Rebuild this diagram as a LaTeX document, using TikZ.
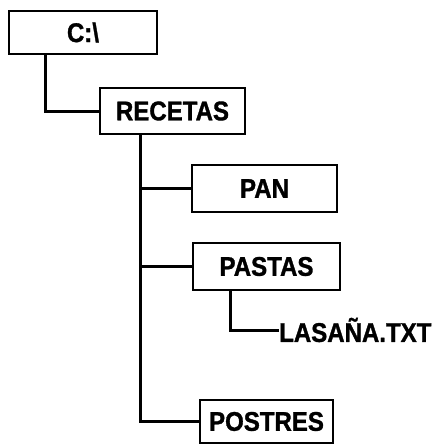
\documentclass[tikz,border=0pt]{standalone}
\usepackage{fontspec}
\newfontfamily\treefont{Liberation Sans}[UprightFont=* Bold,FakeBold=1.2,FakeStretch=0.89]
\usetikzlibrary{calc}
\begin{document}
\begin{tikzpicture}[x=1pt,y=1pt,
  dirbox/.style={draw,line width=2.8pt,inner sep=0pt,
    font=\fontsize{27}{27}\selectfont\treefont},
  leaf/.style={inner sep=0pt,font=\fontsize{27}{27}\selectfont\treefont},
  link/.style={line width=3pt}]
\useasboundingbox[fill=white] (0,0) rectangle (440,-445);
% directory boxes
\node[dirbox,minimum width=148pt,minimum height=43pt] (c) at (83,-32.5) {C:\textbackslash};
\node[dirbox,minimum width=145pt,minimum height=46pt] (recetas) at (172.5,-111) {RECETAS};
\node[dirbox,minimum width=145pt,minimum height=47pt] (pan) at (264.5,-188.5) {PAN};
\node[dirbox,minimum width=147pt,minimum height=47pt] (pastas) at (266.5,-266.5) {PASTAS};
\node[dirbox,minimum width=133pt,minimum height=43pt] (postres) at (266.5,-421.5) {POSTRES};
% file
\node[leaf,anchor=west] (lasana) at (279,-330) {LASAÑA.TXT};
% tree connectors
\coordinate (croot) at ($(c.south west)+(38,0)$);
\coordinate (rroot) at ($(recetas.south west)+(42,0)$);
\coordinate (proot) at ($(pastas.south west)+(39,0)$);
\draw[link] (croot) |- (recetas.west);
\draw[link] (rroot) |- (pan.west);
\draw[link] (rroot) |- (pastas.west);
\draw[link] (rroot) |- (postres.west);
\draw[link] (proot) |- (lasana.west);
\end{tikzpicture}
\end{document}
